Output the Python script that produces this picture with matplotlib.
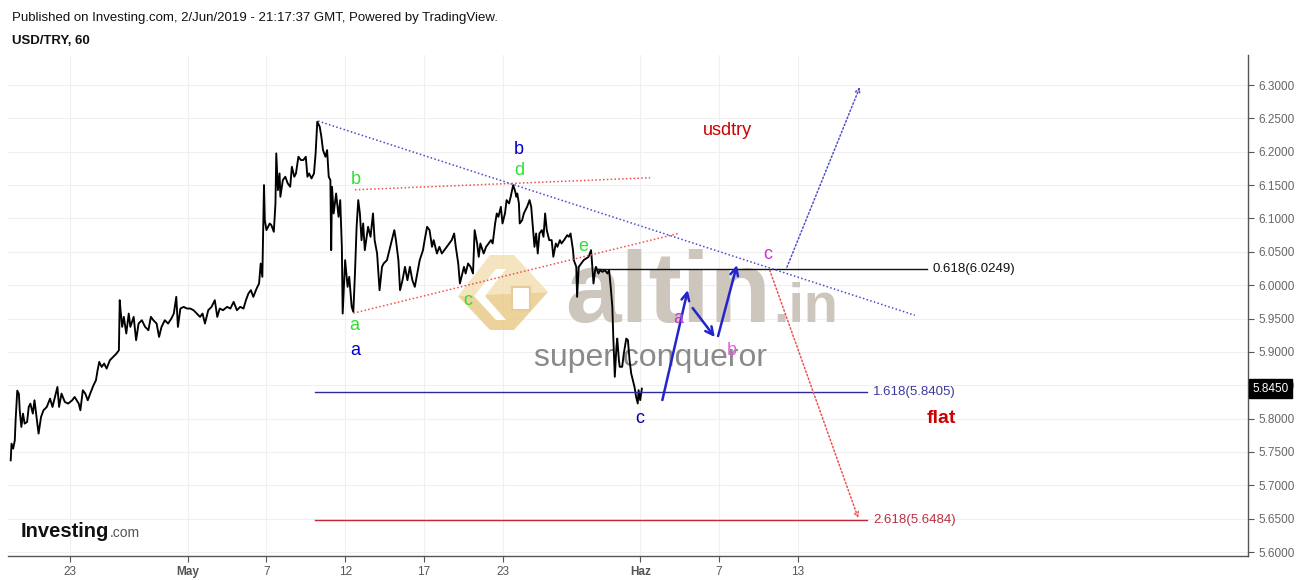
import matplotlib

matplotlib.use("Agg")
import matplotlib.pyplot as plt
import matplotlib.transforms as mtransforms
from matplotlib.patches import Polygon

plt.rcParams["font.family"] = ["Liberation Sans", "DejaVu Sans"]

# hourly bars (trading hours from first bar) and closes
hours = [
    0, 1, 3, 5, 6, 8, 10, 11, 13, 15,
    17, 20, 22, 24, 27, 29, 32, 34, 37, 40,
    44, 48, 51, 54, 57, 59, 62, 66, 70, 75,
    78, 83, 85, 88, 91, 94, 97, 101, 104, 106,
    108, 111, 114, 117, 121, 125, 129, 132, 133, 134,
    136, 138, 141, 144, 146, 150, 153, 156, 160, 164,
    168, 171, 174, 178, 181, 184, 188, 192, 196, 199,
    202, 204, 207, 211, 215, 219, 223, 227, 231, 234,
    237, 241, 245, 249, 252, 255, 259, 264, 268, 272,
    276, 280, 284, 287, 290, 293, 296, 300, 303, 305,
    307, 309, 310, 312, 316, 318, 321, 323, 324, 326,
    328, 329, 332, 335, 338, 341, 343, 346, 348, 351,
    354, 357, 360, 362, 364, 367, 370, 372, 374, 377,
    379, 381, 384, 386, 388, 390, 391, 392, 394, 397,
    400,
    402, 404, 405, 408, 411, 413, 416, 418, 420, 422,
    424, 426, 428, 430, 432, 436, 439, 442, 444, 447,
    450, 453, 455, 459, 462, 465, 468, 470, 473, 475,
    478, 481, 484, 487, 490, 493, 496, 499, 503, 505,
    508, 511, 514, 516, 520, 523, 526, 529, 532, 535,
    538, 541, 543, 546, 548, 551, 553, 555, 558, 561,
    564, 566, 569, 571, 573, 577, 580, 583, 586, 588,
    591, 593, 595, 598, 600, 603, 605, 608, 610, 613,
    615, 617, 618, 620, 621, 624, 626, 628, 630, 633,
    635, 637, 639, 641, 643, 645, 648, 650, 652, 654,
    657, 660, 662, 665, 667, 670, 672, 675, 679, 681,
    683, 686, 687, 690, 691, 693, 696, 699, 702, 705,
    708, 709, 711, 713, 714, 717, 719, 722, 725, 728,
    730, 732, 734, 735,
    737, 739, 740, 742, 743, 746, 748, 751, 753, 755,
    757, 759, 761, 763, 765, 766, 768, 770,
]
close = [
    5.7375, 5.7625, 5.755, 5.7675, 5.798, 5.842, 5.837, 5.8125, 5.7875, 5.8075,
    5.7925, 5.795, 5.8175, 5.8225, 5.8075, 5.8275, 5.7975, 5.7775, 5.8025, 5.8125,
    5.8175, 5.83, 5.8175, 5.8325, 5.8475, 5.8175, 5.8375, 5.825, 5.8225, 5.8275,
    5.8325, 5.8225, 5.8125, 5.8425, 5.8375, 5.8275, 5.8375, 5.85, 5.8575, 5.8725,
    5.885, 5.8775, 5.8825, 5.875, 5.8875, 5.8925, 5.8975, 5.9025, 5.9775, 5.9625,
    5.9375, 5.9525, 5.9275, 5.9575, 5.9375, 5.9525, 5.9175, 5.9425, 5.9475, 5.9375,
    5.9325, 5.9525, 5.9475, 5.9425, 5.9225, 5.9375, 5.9475, 5.9425, 5.95, 5.9575,
    5.9825, 5.9375, 5.965, 5.9675, 5.965, 5.965, 5.9625, 5.9575, 5.9525, 5.9575,
    5.9425, 5.9625, 5.9675, 5.9775, 5.9525, 5.965, 5.9625, 5.9675, 5.965, 5.975,
    5.9625, 5.9675, 5.965, 5.9775, 5.9875, 5.9925, 5.9825, 5.995, 6.0025, 6.0325,
    6.0125, 6.15, 6.0975, 6.0825, 6.0925, 6.09, 6.08, 6.1225, 6.1975, 6.1425,
    6.1675, 6.1325, 6.1575, 6.1625, 6.1525, 6.1475, 6.1775, 6.1625, 6.1675, 6.1925,
    6.1875, 6.1875, 6.1925, 6.1625, 6.1675, 6.16, 6.1675, 6.1975, 6.245, 6.2375,
    6.2225, 6.2025, 6.1925, 6.2025, 6.1625, 6.1575, 6.0525, 6.1475, 6.1075, 6.1375,
    6.1025,
    6.1275, 6.0575, 5.9575, 6.0375, 5.9975, 6.0125, 5.9675, 5.96, 6.0175, 6.0875,
    6.1275, 6.1075, 6.0675, 6.0925, 6.0525, 6.0875, 6.0725, 6.1075, 6.0675, 6.0475,
    5.9925, 6.0275, 6.0325, 6.0375, 6.0525, 6.0675, 6.0825, 6.0675, 6.0375, 5.9925,
    6.0075, 6.0275, 6.0075, 6.0275, 6.0075, 5.9975, 6.0175, 6.0375, 6.0525, 6.0675,
    6.0875, 6.0825, 6.0575, 6.0675, 6.0475, 6.0575, 6.0475, 6.0525, 6.0575, 6.0625,
    6.0675, 6.0775, 6.0575, 6.0325, 6.0025, 6.0175, 6.0275, 6.0175, 6.0325, 6.0275,
    6.0175, 6.0825, 6.0625, 6.0425, 6.0625, 6.0475, 6.0575, 6.0625, 6.0675, 6.0625,
    6.0925, 6.1075, 6.1025, 6.1175, 6.0925, 6.1075, 6.1275, 6.1225, 6.1325, 6.15,
    6.1425, 6.1325, 6.1375, 6.1225, 6.0925, 6.0975, 6.1075, 6.1125, 6.1175, 6.1275,
    6.1175, 6.0875, 6.0575, 6.0775, 6.0475, 6.0775, 6.0825, 6.0725, 6.1075, 6.0825,
    6.0675, 6.0675, 6.0425, 6.0625, 6.0575, 6.0675, 6.0625, 6.0675, 6.075, 6.0725,
    6.0775, 6.0525, 6.0375, 6.0275, 5.9825, 6.0275, 6.0325, 6.0375, 6.04, 6.0425,
    6.0525, 6.0375, 6.0025, 6.0225, 6.0275, 6.0175, 6.0225, 6.02, 6.0225, 6.0175,
    6.0225, 5.9975, 5.9675, 5.9275,
    5.8627, 5.9077, 5.92, 5.8877, 5.8777, 5.8777, 5.8977, 5.92, 5.9177, 5.8877,
    5.8677, 5.8577, 5.8477, 5.8327, 5.8227, 5.8427, 5.8277, 5.845,
]
last_price = 5.8450

tick_hours = [72, 216, 312, 408, 504, 600, 768, 864, 960]
tick_labels = ["23", "May", "7", "12", "17", "23", "Haz", "7", "13"]

# fibonacci targets
fib_levels = [6.0249, 5.8405, 5.6484]
fib_names = ["0.618(6.0249)", "1.618(5.8405)", "2.618(5.6484)"]
fib_start = [716, 371, 371]
fib_end = [1118, 1045, 1045]
fib_colors = ["#111111", "#2b2b99", "#c0283a"]
fib_text_colors = ["#111111", "#3a3aa0", "#b83040"]

# dotted trend lines: (x0, y0, x1, y1, colour, arrow)
trend_lines = [
    (375, 6.246, 1103, 5.955, "#4a4acc", False),
    (420, 6.143, 780, 6.161, "#ee5050", False),
    (418, 5.958, 816, 6.078, "#ee5050", False),
    (947, 6.027, 1036, 6.297, "#5050cc", True),
    (926, 6.0225, 1034, 5.651, "#ee5050", True),
]
# hand drawn projection arrows
wave_arrows = [
    (795, 5.8278, 826, 5.9927),
    (832, 5.9657, 859, 5.9222),
    (863, 5.9237, 886, 6.0302),
]
# wave labels: (x, y, text, colour)
wave_labels = [
    (421, 6.159, "b", "#33dd33"),
    (419, 5.940, "a", "#33dd33"),
    (420, 5.9025, "a", "#0000cc"),
    (557, 5.9775, "c", "#33dd33"),
    (620, 6.204, "b", "#0000cc"),
    (620, 6.1725, "d", "#33dd33"),
    (698, 6.0587, "e", "#33dd33"),
    (768, 5.800, "c", "#000099"),
    (814, 5.9508, "a", "#cc33cc"),
    (880, 5.9027, "b", "#e060e0"),
    (923, 6.0467, "c", "#cc33cc"),
]

W, H = 1299, 580


def px(x, y):
    return x / W, 1 - y / H


fig = plt.figure(figsize=(W / 100, H / 100), dpi=100)
ax = fig.add_axes([8 / W, 24 / H, 1240 / W, 501 / H])
ax.set_xlim(-3.3, 1509.5)
ax.set_ylim(5.5941, 6.345)

# watermark (behind the price)
logo_parts = [
    ([(458, 296), (490, 255), (514, 255), (548, 292)], "#f2deb0"),
    ([(458, 296), (548, 292), (514, 330), (490, 330)], "#e8c884"),
    ([(474, 296), (496, 269), (506, 269), (485, 296), (506, 320), (496, 320)], "white"),
]
for pts, col in logo_parts:
    ax.add_patch(Polygon([px(*p) for p in pts], closed=True, transform=fig.transFigure,
                         fc=col, ec="none", alpha=0.8 if col != "white" else 1.0, zorder=1))
ax.add_patch(Polygon([px(*p) for p in [(512, 287), (530, 287), (530, 310), (512, 310)]], closed=True,
                     transform=fig.transFigure, fc="white", ec="#e6cd98", lw=1.5, zorder=1))
ax.text(*px(565, 322), "altin", transform=fig.transFigure, fontsize=72, fontweight="bold",
        color="#ccc6bd", va="baseline", ha="left", zorder=1)
ax.text(*px(773, 322), ".in", transform=fig.transFigure, fontsize=40, fontweight="bold",
        color="#ccc6bd", va="baseline", ha="left", zorder=1)
ax.text(*px(534, 366), "super conqueror", transform=fig.transFigure, fontsize=23,
        color="#8a8a8a", va="baseline", ha="left", zorder=1)

ax.plot(hours, close, color="black", lw=1.35, zorder=3)

for lvl, name, x0, x1, c, tc in zip(fib_levels, fib_names, fib_start, fib_end, fib_colors, fib_text_colors):
    ax.plot([x0, x1], [lvl, lvl], color=c, lw=1.0, zorder=4)
    ax.text(x1 + 7, lvl, name, color=tc, fontsize=9.5, va="center", ha="left", zorder=4)

for x0, y0, x1, y1, c, arrow in trend_lines:
    if arrow:
        ax.annotate("", xy=(x1, y1), xytext=(x0, y0),
                    arrowprops=dict(arrowstyle="->", color=c, lw=1.1, linestyle=(0, (1, 1.5)),
                                    shrinkA=0, shrinkB=0, mutation_scale=8), zorder=4)
    else:
        ax.plot([x0, x1], [y0, y1], color=c, lw=1.1, ls=(0, (1, 1.5)), zorder=4)

for x0, y0, x1, y1 in wave_arrows:
    ax.annotate("", xy=(x1, y1), xytext=(x0, y0),
                arrowprops=dict(arrowstyle="->", color="#2424cc", lw=1.8,
                                shrinkA=0, shrinkB=0, mutation_scale=14), zorder=5)

for x, y, s, c in wave_labels:
    ax.text(x, y, s, color=c, fontsize=13, ha="center", va="center", zorder=5)

ax.text(874, 6.2325, "usdtry", color="#cc0000", fontsize=13, ha="center", va="center", zorder=5)
ax.text(1135, 5.800, "flat", color="#cc0000", fontsize=14, fontweight="bold", ha="center", va="center", zorder=5)

# axes styling
ax.set_xticks(tick_hours)
ax.set_xticklabels(tick_labels)
for i, lab in enumerate(ax.get_xticklabels()):
    if tick_labels[i] in ("May", "Haz"):
        lab.set_fontweight("bold")
yt = [5.60 + 0.05 * i for i in range(15)]
ax.set_yticks(yt)
ax.set_yticklabels([f"{v:.4f}" for v in yt])
ax.yaxis.tick_right()
ax.tick_params(axis="both", colors="#555555", labelsize=8.5, length=4, width=0.8)
ax.tick_params(axis="y", labelcolor="#666666")
ax.tick_params(axis="x", labelcolor="#555555")
for side in ("left", "top"):
    ax.spines[side].set_visible(False)
for side in ("right", "bottom"):
    ax.spines[side].set_color("#555555")
    ax.spines[side].set_linewidth(1.0)
ax.grid(True, color="#f0f0f0", lw=0.8)
ax.set_axisbelow(True)

trans = mtransforms.blended_transform_factory(ax.transAxes, ax.transData)
ax.text(1.0035, last_price, f"{last_price:.4f}", transform=trans, color="white", fontsize=8.5,
        va="center", ha="left", zorder=6,
        bbox=dict(boxstyle="square,pad=0.3", fc="black", ec="black"))

fig.text(*px(12, 18), "Published on Investing.com, 2/Jun/2019 - 21:17:37 GMT, Powered by TradingView.",
         fontsize=9.5, va="center", ha="left", color="#111111")
fig.text(*px(12, 41), "USD/TRY, 60", fontsize=9.5, fontweight="bold", va="center", ha="left", color="#111111")
fig.text(*px(21, 537), "Investing", fontsize=14.5, fontweight="bold", va="baseline", ha="left", color="#111111")
fig.text(*px(110, 537), ".com", fontsize=10, va="baseline", ha="left", color="#555555")

fig.savefig("out.png", dpi=100)
plt.close(fig)
